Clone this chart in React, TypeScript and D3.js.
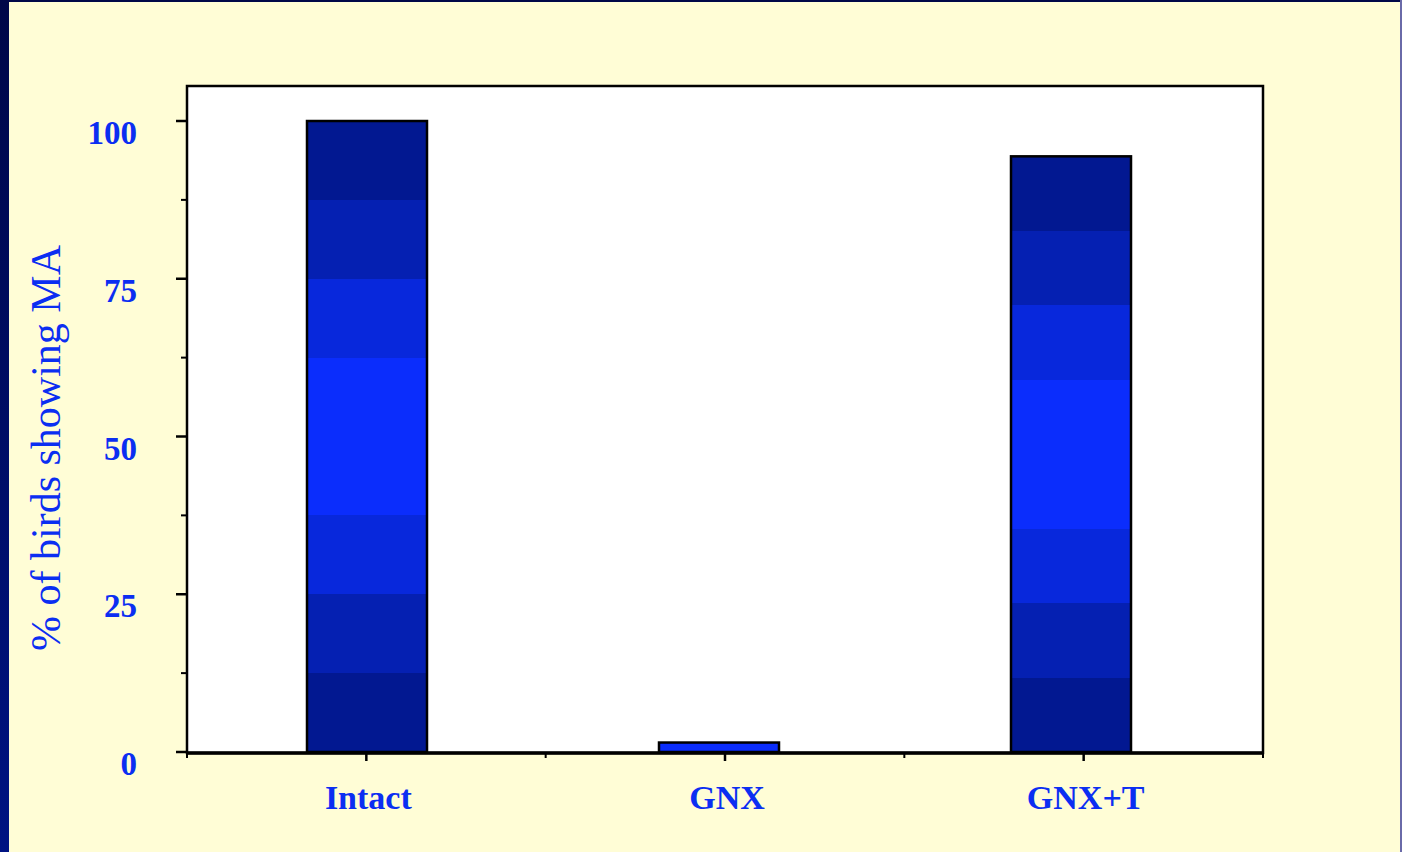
import React from "react";
import * as d3 from "d3";

const categories = ["Intact", "GNX", "GNX+T"];
const percentValues = [100, 1.5, 94.4];
const yTicks = [0, 25, 50, 75, 100];
const yMinorTicks = [12.5, 37.5, 62.5, 87.5];
const yTitle = "% of birds showing MA";

const W = 1402;
const H = 852;
const plot = { left: 187, right: 1263, top: 86, bottom: 753 };
const textBlue = "#0b2ef2";
const serif = "'Liberation Serif', 'Times New Roman', serif";

export default function App() {
  const x = d3
    .scaleBand<string>()
    .domain(categories)
    .range([plot.left, plot.right])
    .padding(0);
  // bars sit slightly left of the axis category centres in the original
  const xBar = d3
    .scaleBand<string>()
    .domain(categories)
    .range([191, 1247])
    .padding(0);
  const y = d3.scaleLinear().domain([0, 100]).range([752, 121]);
  const barW = 120;
  const bandColors = ["#021891", "#0520b2", "#0828dc", "#0b2dfc", "#0828dc", "#0520b2", "#021891"];
  const bandEdges = [0, 0.125, 0.25, 0.375, 0.625, 0.75, 0.875, 1];

  const boundaries = [...categories.map((c) => x(c) as number), plot.right];

  return (
    <div style={{ position: "absolute", left: 0, top: 0, width: W, height: H, overflow: "hidden" }}>
      <svg width={W} height={H} style={{ display: "block" }}>
        <defs>
          <linearGradient id="bands" x1="0" y1="0" x2="0" y2="1">
            {bandColors.map((c, i) => (
              <React.Fragment key={i}>
                <stop offset={bandEdges[i]} stopColor={c} />
                <stop offset={bandEdges[i + 1]} stopColor={c} />
              </React.Fragment>
            ))}
          </linearGradient>
          <linearGradient id="leftStrip" x1="0" y1="0" x2="0" y2="1">
            <stop offset="0" stopColor="#000748" />
            <stop offset="1" stopColor="#001382" />
          </linearGradient>
        </defs>
        <rect x={0} y={0} width={W} height={H} fill="#FFFDD6" />
        <rect x={0} y={0} width={9} height={H} fill="url(#leftStrip)" />
        <rect x={0} y={0} width={W} height={2} fill="#000748" />
        <rect x={W - 2} y={0} width={2} height={H} fill="#6a6aa8" />

        {/* plot area */}
        <rect
          x={plot.left}
          y={plot.top}
          width={plot.right - plot.left}
          height={plot.bottom - plot.top}
          fill="#ffffff"
          stroke="#000"
          strokeWidth={2.5}
        />

        {/* bars */}
        {categories.map((c, i) => {
          const cx = (xBar(c) as number) + xBar.bandwidth() / 2;
          const v = percentValues[i];
          const top = y(v);
          const h = y(0) - top;
          return (
            <rect
              key={c}
              x={cx - barW / 2}
              y={top}
              width={barW}
              height={h}
              fill={v < 5 ? "#0b2dfc" : "url(#bands)"}
              stroke="#000"
              strokeWidth={2.5}
            />
          );
        })}

        {/* y axis ticks */}
        {yTicks.map((t) => (
          <g key={t}>
            <line x1={176} x2={plot.left} y1={y(t)} y2={y(t)} stroke="#000" strokeWidth={2.5} />
            <text
              x={137}
              y={y(t) + 23}
              textAnchor="end"
              fontFamily={serif}
              fontWeight="bold"
              fontSize={33}
              fill={textBlue}
            >
              {t}
            </text>
          </g>
        ))}
        {yMinorTicks.map((t) => (
          <line key={t} x1={181} x2={plot.left} y1={y(t)} y2={y(t)} stroke="#000" strokeWidth={2} />
        ))}

        {/* x axis */}
        <line x1={plot.left - 1} x2={plot.right + 1} y1={753} y2={753} stroke="#000" strokeWidth={3.5} />
        {boundaries.map((b, i) => (
          <line key={i} x1={b} x2={b} y1={753} y2={758} stroke="#000" strokeWidth={2} />
        ))}
        {categories.map((c) => {
          const cx = (x(c) as number) + x.bandwidth() / 2;
          return (
            <g key={c}>
              <line x1={cx} x2={cx} y1={753} y2={761} stroke="#000" strokeWidth={2.5} />
              <text
                x={cx + 2}
                y={809}
                textAnchor="middle"
                fontFamily={serif}
                fontWeight="bold"
                fontSize={34}
                fill={textBlue}
              >
                {c}
              </text>
            </g>
          );
        })}

        {/* y title */}
        <text
          transform="translate(60,448) rotate(-90)"
          textAnchor="middle"
          fontFamily={serif}
          fontSize={42}
          fill={textBlue}
        >
          {yTitle}
        </text>
      </svg>
    </div>
  );
}
